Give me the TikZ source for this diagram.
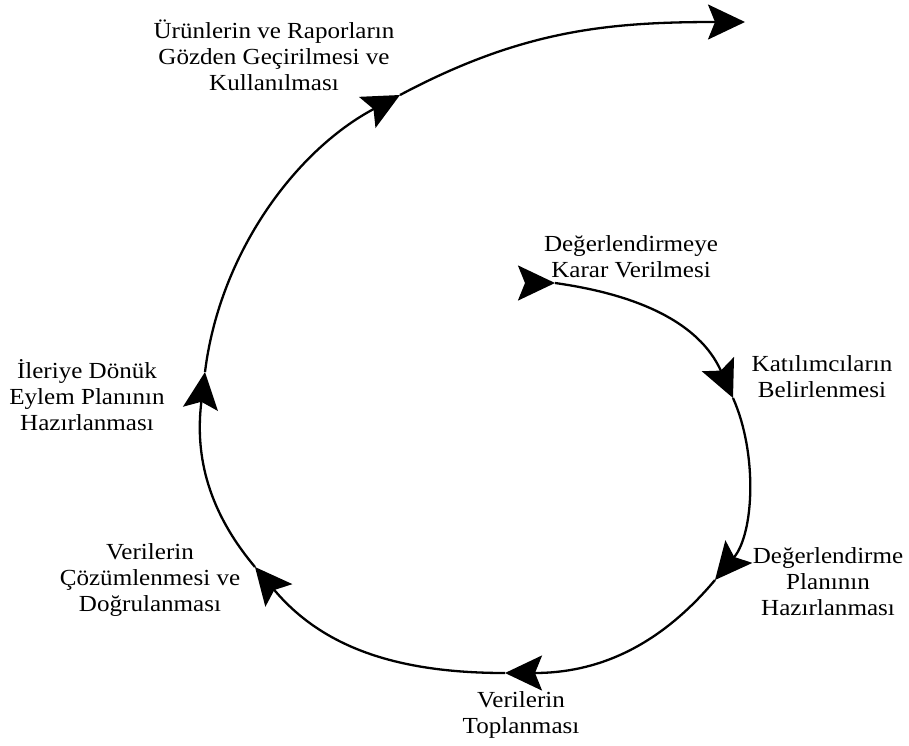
\documentclass[tikz,border=0pt]{standalone}
\usepackage{fontspec}
\setmainfont{Liberation Serif}[FakeStretch=1.09]
\usepackage{tikz}
\usetikzlibrary{arrows.meta}

\tikzset{
  flow/.style={line width=2.3pt, -{Stealth[length=37pt, width=35pt, inset=7pt]}},
  lbl/.style={align=center, inner sep=0pt, font=\fontsize{23}{26}\selectfont},
}

\begin{document}
\begin{tikzpicture}[x=1pt, y=-1pt]
        \useasboundingbox (0,0) rectangle (909,745);

        \coordinate (s0) at (530,283);                                 %start
        \coordinate (a0) at (555,283);                                 %
        \coordinate (a1) at (733,398);                                 %
        \coordinate (a2) at (715,580);                                 %
        \coordinate (a3) at (505,673);                                 %
        \coordinate (a4) at (255,567);                                 %
        \coordinate (a5) at (205,372);                                 %
        \coordinate (a6) at (400,95);                                  %
        \coordinate (a7) at (745,22);                                  %end

        \node [lbl] (decide)  at (631,257) {Değerlendirmeye\\Karar Verilmesi};
        \node [lbl] (part)    at (822,377) {Katılımcıların\\Belirlenmesi};
        \node [lbl] (plan)    at (828,582) {Değerlendirme\\Planının\\Hazırlanması};
        \node [lbl] (collect) at (521,715) {Verilerin\\Toplanması};
        \node [lbl] (analyze) at (150,580) {Verilerin\\Çözümlenmesi ve\\Doğrulanması};
        \node [lbl] (action)  at (87,395)  {İleriye Dönük\\Eylem Planının\\Hazırlanması};
        \node [lbl] (review)  at (274,55)  {Ürünlerin ve Raporların\\Gözden Geçirilmesi ve\\Kullanılması};

        \draw [flow] (s0) -- (a0);                                     %
        \draw [flow] (a0) to [out=-8,   in=114]  (a1);                 %
        \draw [flow] (a1) to [out=-66,  in=50, looseness=0.85] (a2);   %
        \draw [flow] (a2) to [out=-130, in=0]    (a3);                 %
        \draw [flow] (a3) to [out=180,  in=-50]  (a4);                 %
        \draw [flow] (a4) to [out=130,  in=-97]  (a5);                 %
        \draw [flow] (a5) to [out=83,   in=-152, looseness=0.9] (a6);  %
        \draw [flow] (a6) to [out=28,   in=180]  (a7);                 %
\end{tikzpicture}
\end{document}
